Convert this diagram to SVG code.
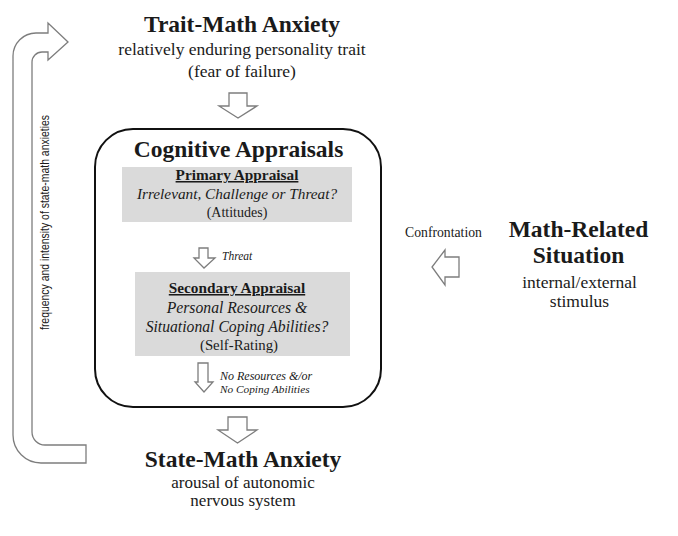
<svg xmlns="http://www.w3.org/2000/svg" width="678" height="536" viewBox="0 0 678 536">
<style>
.serif{font-family:"Liberation Serif","Times New Roman",serif;fill:#1a1a1a}
.title{font-size:23.5px;font-weight:bold}
.sub{font-size:17.5px}
.head{font-size:15.3px;font-weight:bold;text-decoration:underline}
.it{font-style:italic}
.arrow{fill:#fff;stroke:#7d7d7d;stroke-width:1.3;stroke-linejoin:miter}
.gray{fill:#dadada}
</style>
<rect width="678" height="536" fill="#fff"/>
<g id="trait" text-anchor="middle">
  <text class="serif title" x="242" y="32">Trait-Math Anxiety</text>
  <text class="serif sub" x="242" y="55">relatively enduring personality trait</text>
  <text class="serif sub" x="242" y="77">(fear of failure)</text>
</g>
<g id="cognitive" text-anchor="middle">
  <rect x="95" y="129" width="286" height="278" rx="38" ry="38" fill="#fff" stroke="#111" stroke-width="2"/>
  <text class="serif title" x="238.5" y="157" font-size="23">Cognitive Appraisals</text>
  <g id="primary">
    <rect class="gray" x="122" y="167" width="230" height="55"/>
    <text class="serif head" x="237" y="180">Primary Appraisal</text>
    <text class="serif it" x="237" y="199" font-size="15.3">Irrelevant, Challenge or Threat?</text>
    <text class="serif" x="237" y="217" font-size="14">(Attitudes)</text>
  </g>
  <g id="secondary">
    <rect class="gray" x="135" y="272" width="215" height="84"/>
    <text class="serif head" x="237" y="293">Secondary Appraisal</text>
    <text class="serif it" x="237" y="313" font-size="15.7">Personal Resources &amp;</text>
    <text class="serif it" x="237" y="332" font-size="15.7">Situational Coping Abilities?</text>
    <text class="serif" x="239" y="350" font-size="14.8">(Self-Rating)</text>
  </g>
</g>
<g id="state" text-anchor="middle">
  <text class="serif title" x="243" y="467">State-Math Anxiety</text>
  <text class="serif" x="243" y="488" font-size="17">arousal of autonomic</text>
  <text class="serif" x="243" y="506" font-size="17">nervous system</text>
</g>
<g id="situation" text-anchor="middle">
  <text class="serif title" x="578.5" y="237" font-size="23">Math-Related</text>
  <text class="serif title" x="578.5" y="263" font-size="23">Situation</text>
  <text class="serif sub" x="579.5" y="288">internal/external</text>
  <text class="serif sub" x="579.5" y="307">stimulus</text>
</g>
<g id="connectors">
  <path class="arrow" d="M68,42 L48,23 L48,33 L36,33 A23,23 0 0 0 13,56 L13,435 A28,28 0 0 0 41,463 L86,463 L86,445 L45,445 A13,13 0 0 1 32,432 L32,62 A10,10 0 0 1 42,52 L48,52 L48,60 Z"/>
  <text transform="translate(49,222.5) rotate(-90)" text-anchor="middle" font-family="Liberation Sans, Arial, sans-serif" font-size="13" fill="#1a1a1a" textLength="215" lengthAdjust="spacingAndGlyphs">frequency and intensity of state-math anxieties</text>
  <path class="arrow" d="M229,93 H247 V106 H257 L238,118 L219,106 H229 Z"/>
  <path class="arrow" d="M228,417 H247 V430 H257 L237.5,443 L218,430 H228 Z"/>
  <path class="arrow" d="M199,248 H208 V258 H215 L204,268 L194,258 H199 Z"/>
  <text class="serif it" x="222" y="260" font-size="11.5">Threat</text>
  <path class="arrow" d="M198,363 H208 V382 H213 L204,392 L195,382 H198 Z"/>
  <text class="serif it" x="220" y="380" font-size="12">No Resources &amp;/or</text>
  <text class="serif it" x="220" y="393" font-size="11.3">No Coping Abilities</text>
  <path class="arrow" d="M459,257 V277 H445 V285 L432,267 L445,250 V257 Z"/>
  <text class="serif" x="443.5" y="237" font-size="13.7" text-anchor="middle">Confrontation</text>
</g>
</svg>
